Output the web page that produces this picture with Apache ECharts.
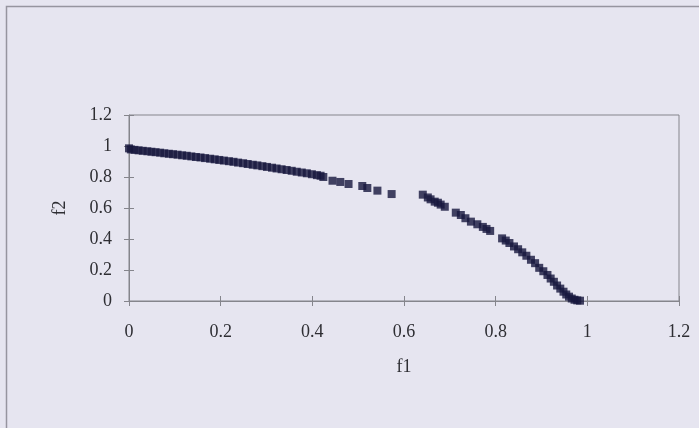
<!DOCTYPE html>
<html>
<head>
<meta charset="utf-8">
<script src="https://cdn.jsdelivr.net/npm/echarts@6/dist/echarts.min.js"></script>
<style>
  html, body { margin: 0; padding: 0; background: #e6e5f0; }
  #chart { width: 699px; height: 428px; }
</style>
</head>
<body>
<div id="chart"></div>
<script>
// Pareto front points: [f1, f2]
const frontUpper = [
  [0.000,0.985],[0.004,0.978],[0.012,0.975],[0.021,0.972],[0.030,0.969],[0.040,0.966],
  [0.049,0.963],[0.058,0.960],[0.068,0.957],[0.077,0.953],[0.087,0.950],[0.096,0.947],
  [0.106,0.944],[0.116,0.940],[0.126,0.937],[0.136,0.933],[0.146,0.929],[0.156,0.926],
  [0.166,0.922],[0.177,0.918],[0.187,0.914],[0.197,0.910],[0.207,0.906],[0.218,0.902],
  [0.228,0.898],[0.238,0.893],[0.249,0.889],[0.259,0.884],[0.270,0.879],[0.280,0.875],
  [0.291,0.870],[0.301,0.865],[0.312,0.860],[0.322,0.855],[0.333,0.850],[0.344,0.845],
  [0.355,0.840],[0.366,0.834],[0.377,0.829],[0.388,0.824],[0.399,0.818],[0.410,0.812],
  [0.418,0.808]
];
const frontMiddle = [
  [0.424,0.800],[0.444,0.776],[0.461,0.768],[0.479,0.755],[0.509,0.742],[0.520,0.729],
  [0.542,0.712],[0.573,0.690]
];
const frontLower = [
  [0.641,0.686],[0.652,0.668],[0.658,0.656],[0.667,0.641],[0.674,0.634],[0.680,0.622],
  [0.689,0.608],[0.713,0.570],[0.724,0.555],[0.734,0.534],[0.746,0.512],[0.760,0.495],
  [0.772,0.478],[0.780,0.465],[0.788,0.452],[0.814,0.404],[0.822,0.390],[0.830,0.374],
  [0.840,0.352],[0.849,0.334],[0.858,0.314],[0.867,0.292],[0.877,0.266],[0.886,0.244],
  [0.895,0.214],[0.904,0.192],[0.913,0.168],[0.920,0.145],[0.927,0.124],[0.934,0.100],
  [0.941,0.080],[0.948,0.060],[0.954,0.042],[0.960,0.028],[0.966,0.016],[0.972,0.008],
  [0.978,0.004],[0.984,0.002]
];
const xTicks = { min: 0, max: 1.2, interval: 0.2 };
const yTicks = { min: 0, max: 1.2, interval: 0.2 };

const points = frontUpper.concat(frontMiddle, frontLower);

const font = '"Liberation Serif", "DejaVu Serif", serif';
const axisGray = '#85858c';
const textColor = '#2e2e33';

const chart = echarts.init(document.getElementById('chart'), null, { renderer: 'canvas' });

chart.setOption({
  backgroundColor: '#e6e5f0',
  animation: false,
  graphic: [{
    type: 'rect',
    shape: { x: 6.5, y: 6.5, width: 720, height: 440 },
    style: { fill: 'none', stroke: '#96959f', lineWidth: 1.5 },
    silent: true,
    z: 0
  }],
  grid: {
    left: 129, top: 115, right: 20, bottom: 127,
    show: true, borderColor: axisGray, borderWidth: 1,
    backgroundColor: 'transparent'
  },
  xAxis: [{
    type: 'value', min: xTicks.min, max: xTicks.max, interval: xTicks.interval,
    name: 'f1', nameLocation: 'middle', nameGap: 57,
    nameTextStyle: { fontFamily: font, fontSize: 18, color: textColor },
    axisLine: { lineStyle: { color: axisGray, width: 1 } },
    axisTick: { show: true, inside: false, length: 5, lineStyle: { color: axisGray } },
    axisLabel: { fontFamily: font, fontSize: 18, color: textColor, margin: 22 },
    splitLine: { show: false }
  }, {
    type: 'value', min: xTicks.min, max: xTicks.max, interval: xTicks.interval,
    position: 'bottom', gridIndex: 0,
    axisLine: { show: false },
    axisTick: { show: true, inside: true, length: 5, lineStyle: { color: axisGray } },
    axisLabel: { show: false },
    splitLine: { show: false }
  }],
  yAxis: [{
    type: 'value', min: yTicks.min, max: yTicks.max, interval: yTicks.interval,
    name: 'f2', nameLocation: 'middle', nameGap: 60, nameRotate: 90,
    nameTextStyle: { fontFamily: font, fontSize: 18, color: textColor },
    axisLine: { show: true, lineStyle: { color: axisGray, width: 1 } },
    axisTick: { show: true, inside: false, length: 5, lineStyle: { color: axisGray } },
    axisLabel: { fontFamily: font, fontSize: 18, color: textColor, margin: 17 },
    splitLine: { show: false }
  }, {
    type: 'value', min: yTicks.min, max: yTicks.max, interval: yTicks.interval,
    position: 'left',
    axisLine: { show: false },
    axisTick: { show: true, inside: true, length: 5, lineStyle: { color: axisGray } },
    axisLabel: { show: false },
    splitLine: { show: false }
  }],
  series: [{
    type: 'scatter',
    xAxisIndex: 0, yAxisIndex: 0,
    data: points,
    symbol: 'rect',
    symbolSize: 8,
    itemStyle: { color: '#17163d' },
    clip: false
  }]
});
</script>
</body>
</html>
